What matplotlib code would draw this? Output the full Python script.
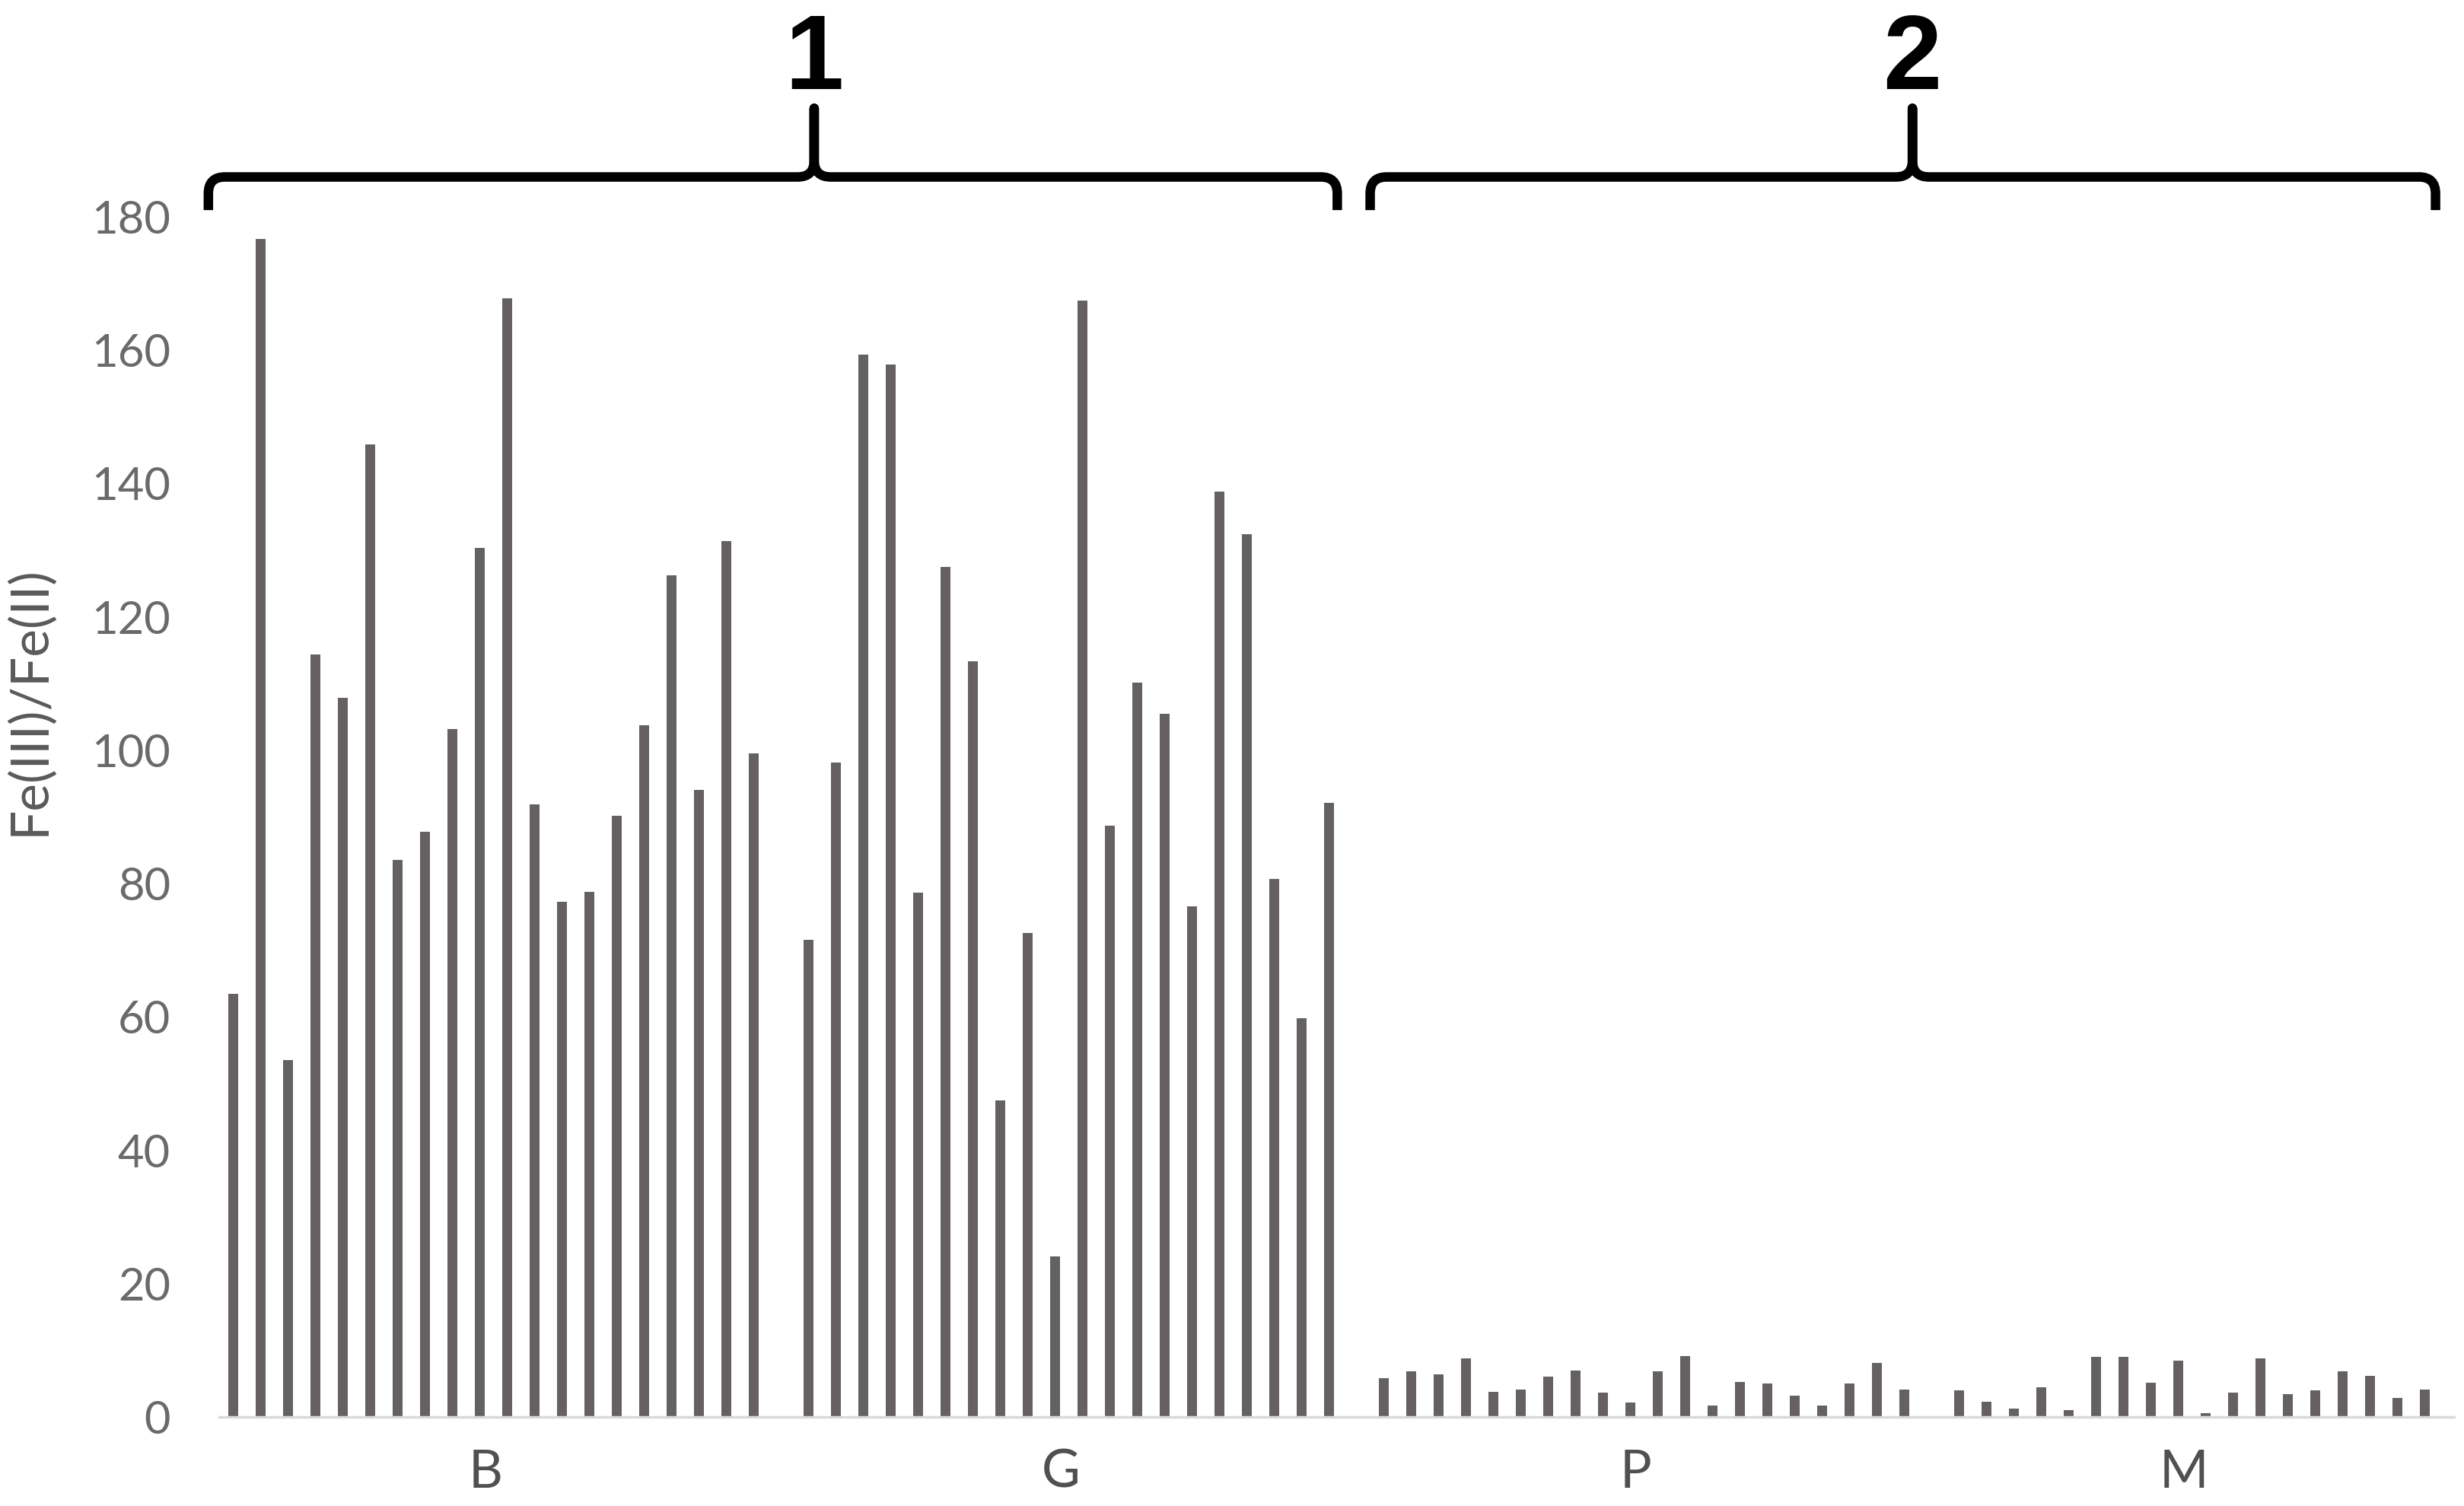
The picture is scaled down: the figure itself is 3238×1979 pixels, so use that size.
import numpy as np
import matplotlib.pyplot as plt
from matplotlib.path import Path
from matplotlib.patches import PathPatch
from matplotlib.transforms import blended_transform_factory

# values
groups = ['B', 'G', 'P', 'M']
b_vals = [63.5, 176.7, 53.5, 114.4, 107.9, 145.9, 83.5, 87.8, 103.2, 130.4,
          167.8, 91.9, 77.3, 78.8, 90.2, 103.8, 126.2, 94.1, 131.4, 99.5]
g_vals = [71.6, 98.2, 159.3, 157.9, 78.7, 127.5, 113.3, 47.5, 72.6, 24.1,
          167.4, 88.7, 110.2, 105.5, 76.6, 138.8, 132.4, 80.7, 59.8, 92.1]
p_vals = [5.8, 6.8, 6.4, 8.8, 3.8, 4.1, 6.0, 7.0, 3.6, 2.2,
          6.8, 9.1, 1.7, 5.2, 5.0, 3.2, 1.7, 5.0, 8.1, 4.1]
m_vals = [4.0, 2.3, 1.3, 4.5, 1.0, 9.0, 9.0, 5.1, 8.4, 0.6,
          3.7, 8.8, 3.4, 4.0, 6.8, 6.2, 2.9, 4.1]
y_ticks = [0, 20, 40, 60, 80, 100, 120, 140, 160, 180]
bracket_labels = ['1', '2']

bar_color = '#656161'
tick_color = '#6a6a6a'

fig = plt.figure(figsize=(32.38, 19.79), dpi=100)
ax = fig.add_axes([0.0889, 0.0591, 0.9071, 0.7969])

label_pos = []
start = 0
for vals in [b_vals, g_vals, p_vals, m_vals]:
    x = start + np.arange(len(vals))
    ax.bar(x, vals, width=0.36, color=bar_color)
    label_pos.append(x.mean() - 0.3)
    start += len(vals) + 1

ax.set_xlim(-0.53, 81.08)
ax.set_ylim(0, 180)
ax.set_yticks(y_ticks)
ax.set_xticks(label_pos)
ax.set_xticklabels(groups)

for s in ['top', 'right', 'left']:
    ax.spines[s].set_visible(False)
ax.spines['bottom'].set_color('#d9d9d9')
ax.spines['bottom'].set_linewidth(2.5)

ax.tick_params(axis='y', length=0, pad=46, labelsize=43, labelcolor=tick_color)
ax.tick_params(axis='x', length=0, pad=30, labelsize=50, labelcolor='#505050')
for lab in ax.get_yticklabels() + ax.get_xticklabels():
    lab.set_family('Lato')

ax.set_ylabel('Fe(III)/Fe(II)', fontsize=50, color='#5a5a5a', family='Lato')
ax.yaxis.set_label_coords(-0.074, 0.597)

# curly brackets over the two sets of groups
trans = blended_transform_factory(ax.transData, fig.transFigure)
brackets = [(-0.92, 21.2, 40.3), (41.5, 61.3, 80.4)]
yb, yh, yp = 0.8605, 0.8825, 0.928
rx, ry = 0.6, 0.011
for (x0, xc, x1), lab in zip(brackets, bracket_labels):
    verts = [(x0, yb), (x0, yh - ry), (x0, yh), (x0 + rx, yh),
             (xc - rx, yh), (xc, yh), (xc, yh + ry), (xc, yp),
             (xc, yh + ry), (xc, yh), (xc + rx, yh),
             (x1 - rx, yh), (x1, yh), (x1, yh - ry), (x1, yb)]
    codes = [Path.MOVETO, Path.LINETO, Path.CURVE3, Path.CURVE3,
             Path.LINETO, Path.CURVE3, Path.CURVE3, Path.LINETO,
             Path.LINETO, Path.CURVE3, Path.CURVE3,
             Path.LINETO, Path.CURVE3, Path.CURVE3, Path.LINETO]
    ax.add_patch(PathPatch(Path(verts, codes), transform=trans, clip_on=False,
                           facecolor='none', edgecolor='black', lw=9,
                           capstyle='butt', joinstyle='round'))
    fig.text(xc, 0.941, lab, transform=trans, ha='center', va='baseline',
             fontsize=100, fontweight='bold', family='Liberation Sans')

fig.savefig('out.png', dpi=100)
